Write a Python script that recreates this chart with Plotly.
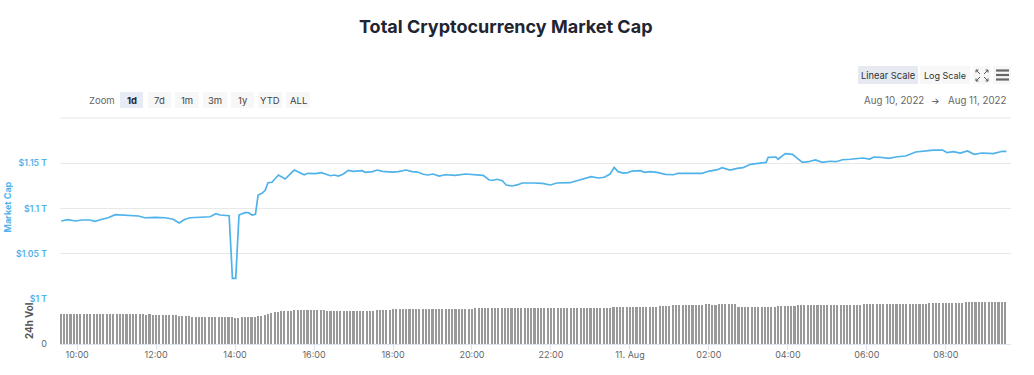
from datetime import datetime, timedelta
import plotly.graph_objects as go

START = datetime(2022, 8, 10, 9, 35)

# Market cap readings: minutes after START, and value in $ trillion
line_minutes = [
    1, 11, 22, 33, 45, 52, 63, 72, 83, 103,
    118, 128, 144, 159, 171, 180, 189, 197, 227, 236,
    242, 256, 261, 266, 271, 280, 285, 291, 296, 300,
    306, 311, 315, 321, 331, 341, 355, 370, 376, 387,
    396, 410, 416, 422, 429, 437, 445, 458, 463, 474,
    481, 489, 504, 513, 525, 534, 542, 551, 558, 566,
    575, 584, 600, 615, 630, 642, 651, 657, 663, 671,
    677, 686, 695, 701, 718, 732, 744, 754, 774, 794,
    806, 817, 826, 835, 841, 847, 855, 862, 868, 881,
    887, 896, 906, 919, 931, 938, 953, 975, 984, 998,
    1005, 1017, 1028, 1037, 1048, 1058, 1072, 1075, 1087, 1090,
    1101, 1112, 1127, 1136, 1147, 1157, 1169, 1178, 1188, 1200,
    1219, 1229, 1236, 1245, 1258, 1271, 1284, 1299, 1311, 1318,
    1326, 1340, 1347, 1356, 1367, 1378, 1388, 1400, 1417, 1431,
    1437,
]
market_cap = [
    1.0862, 1.0876, 1.0862, 1.0873, 1.0873, 1.0859, 1.0881, 1.0898, 1.0932, 1.0928,
    1.0917, 1.0898, 1.0903, 1.0898, 1.0881, 1.0840, 1.0881, 1.0898, 1.0909, 1.0943,
    1.0928, 1.0920, 1.0229, 1.0229, 1.0928, 1.0954, 1.0954, 1.0928, 1.0936, 1.1149,
    1.1168, 1.1204, 1.1285, 1.1290, 1.1370, 1.1326, 1.1425, 1.1373, 1.1389, 1.1385,
    1.1396, 1.1362, 1.1370, 1.1359, 1.1378, 1.1422, 1.1411, 1.1418, 1.1400, 1.1407,
    1.1425, 1.1411, 1.1403, 1.1407, 1.1425, 1.1407, 1.1403, 1.1378, 1.1370, 1.1381,
    1.1359, 1.1373, 1.1367, 1.1381, 1.1373, 1.1367, 1.1315, 1.1312, 1.1323, 1.1307,
    1.1260, 1.1249, 1.1263, 1.1282, 1.1282, 1.1278, 1.1260, 1.1282, 1.1285, 1.1323,
    1.1351, 1.1337, 1.1345, 1.1381, 1.1455, 1.1407, 1.1392, 1.1396, 1.1414, 1.1418,
    1.1400, 1.1407, 1.1400, 1.1378, 1.1373, 1.1389, 1.1389, 1.1389, 1.1411, 1.1429,
    1.1451, 1.1425, 1.1444, 1.1451, 1.1488, 1.1499, 1.1510, 1.1566, 1.1569, 1.1544,
    1.1606, 1.1599, 1.1510, 1.1517, 1.1536, 1.1510, 1.1522, 1.1517, 1.1539, 1.1544,
    1.1558, 1.1547, 1.1569, 1.1566, 1.1555, 1.1572, 1.1580, 1.1624, 1.1635, 1.1635,
    1.1646, 1.1646, 1.1617, 1.1628, 1.1613, 1.1635, 1.1599, 1.1613, 1.1606, 1.1632,
    1.1632,
]

# 24h volume in $ billion, one bar every 5 minutes; each row covers two hours
volume = [
    79, 79, 79, 79, 79, 79, 79, 79, 79, 79, 79, 79, 79, 79, 79, 79, 79, 79, 79, 79, 79, 79, 79, 79,
    79, 79, 78, 79, 78, 78, 77, 77, 77, 77, 77, 77, 75, 75, 74, 74, 73, 73, 73, 73, 73, 73, 73, 73,
    72, 72, 71, 71, 71, 70, 70, 71, 72, 73, 73, 73, 74, 76, 78, 81, 83, 85, 86, 87, 87, 88, 89, 90,
    91, 91, 91, 91, 91, 91, 91, 91, 91, 88, 88, 88, 88, 88, 88, 88, 89, 89, 89, 89, 89, 89, 89, 89,
    90, 90, 91, 91, 92, 93, 93, 93, 93, 93, 93, 93, 93, 93, 93, 93, 93, 93, 94, 94, 94, 94, 94, 94,
    94, 94, 94, 94, 94, 94, 95, 95, 95, 95, 95, 95, 95, 95, 95, 95, 95, 95, 95, 95, 95, 95, 95, 95,
    95, 95, 95, 95, 95, 96, 96, 96, 96, 96, 96, 96, 96, 96, 96, 96, 96, 97, 97, 97, 97, 97, 97, 97,
    98, 98, 98, 98, 98, 99, 99, 99, 99, 99, 99, 100, 100, 100, 101, 101, 102, 102, 103, 103, 104, 104, 105, 105,
    105, 105, 105, 105, 106, 107, 105, 105, 106, 107, 107, 107, 107, 107, 100, 100, 99, 99, 99, 99, 99, 99, 99, 99,
    100, 100, 101, 101, 101, 101, 102, 102, 103, 103, 103, 103, 103, 103, 103, 103, 103, 104, 104, 104, 104, 104, 104, 104,
    104, 104, 104, 104, 106, 107, 107, 107, 107, 107, 107, 107, 107, 107, 107, 107, 107, 107, 107, 107, 108, 108, 108, 108,
    109, 109, 109, 109, 109, 109, 109, 109, 109, 110, 110, 111, 111, 111, 111, 111, 111, 111, 111, 111, 111, 111, 111, 111,
]

y_ticks = [1.0, 1.05, 1.1, 1.15, 1.2]
y_tick_labels = ["$1 T", "$1.05 T", "$1.1 T", "$1.15 T", ""]
x_ticks = ["2022-08-10 10:00", "2022-08-10 12:00", "2022-08-10 14:00", "2022-08-10 16:00",
           "2022-08-10 18:00", "2022-08-10 20:00", "2022-08-10 22:00", "2022-08-11 00:00",
           "2022-08-11 02:00", "2022-08-11 04:00", "2022-08-11 06:00", "2022-08-11 08:00"]
x_tick_labels = ["10:00", "12:00", "14:00", "16:00", "18:00", "20:00", "22:00", "11. Aug",
                 "02:00", "04:00", "06:00", "08:00"]
zoom_buttons = ["1d", "7d", "1m", "3m", "1y", "YTD", "ALL"]

W, H = 1034, 375
L, R, T, B = 60, 1011, 118, 344
FONT = "Inter, Roboto, sans-serif"
BLUE = "#4fb2ea"
GREY = "#666666"


def px(x):
    return (x - L) / (R - L)


def py(y):
    return 1 - (y - T) / (B - T)


line_times = [START + timedelta(minutes=m) for m in line_minutes]
bar_times = [START + timedelta(minutes=5 * i) for i in range(len(volume))]

fig = go.Figure()
fig.add_trace(go.Scatter(x=line_times, y=market_cap, mode="lines", xaxis="x", yaxis="y",
                         line=dict(color=BLUE, width=1.7), hoverinfo="skip"))
fig.add_trace(go.Bar(x=bar_times, y=volume, xaxis="x", yaxis="y2", width=190000,
                     marker=dict(color="#999999", line_width=0), hoverinfo="skip"))

shapes = []
annotations = []


def text(x, y, s, size=10, color=GREY, bold=False, anchor="center", angle=0):
    annotations.append(dict(x=px(x), y=py(y), xref="paper", yref="paper", text=f"<b>{s}</b>" if bold else s,
                            showarrow=False, xanchor=anchor, yanchor="middle", textangle=angle,
                            font=dict(family=FONT, size=size, color=color)))


def rect(x0, y0, x1, y1, fill):
    shapes.append(dict(type="rect", xref="paper", yref="paper", x0=px(x0), x1=px(x1), y0=py(y0), y1=py(y1),
                       fillcolor=fill, line_width=0, layer="below"))


def seg(x0, y0, x1, y1, color=GREY, width=1.0):
    shapes.append(dict(type="line", xref="paper", yref="paper", x0=px(x0), x1=px(x1), y0=py(y0), y1=py(y1),
                       line=dict(color=color, width=width)))


text(505, 27, "Total Cryptocurrency Market Cap", size=18, color="#222531", bold=True)
text(102, 100, "Zoom", size=9.5)

button_edges = [(120, 143), (148, 171), (175, 199), (203, 227), (231, 254), (258, 282), (286, 310)]
for i, (label, (a, b)) in enumerate(zip(zoom_buttons, button_edges)):
    rect(a, 92, b, 108, "#e6ebf5" if i == 0 else "#f7f7f7")
    text((a + b) / 2, 100, label, size=9.5, color="#222531" if i == 0 else "#444444", bold=i == 0)

rect(858, 66, 918, 84, "#e6e9f0")
text(888, 75, "Linear Scale", size=9.3, color="#333333")
rect(920, 66, 970, 84, "#f7f7f7")
text(945, 75, "Log Scale", size=9, color="#333333")
rect(973, 66, 990, 84, "#f7f7f7")
rect(993, 66, 1011, 84, "#f7f7f7")
for y in (70.5, 75, 79.5):
    seg(996, y, 1009, y, color="#666666", width=2.2)
for x0, y0, x1, y1 in [(976, 70, 980, 74), (988, 70, 984, 74), (976, 81, 980, 77), (988, 81, 984, 77)]:
    seg(x0, y0, x1, y1, color="#555555", width=1)
    seg(x0, y0, x0 + (2.5 if x1 > x0 else -2.5), y0, color="#555555", width=1)
    seg(x0, y0, x0, y0 + (2.5 if y1 > y0 else -2.5), color="#555555", width=1)

text(893.5, 100, "Aug 10, 2022", size=9.7)
text(935, 100, "\u2192", size=9, color="#444444")
text(977, 100, "Aug 11, 2022", size=9.7)

text(7, 207.5, "Market Cap", size=9, color=BLUE, bold=True, angle=-90)
text(29, 321, "24h Vol", size=9.8, color="#555555", bold=True, angle=-90)

# the top gridline sits on the plot edge, where the axis does not draw one
seg(L, T, R, T, color="#e8e8e8", width=1)

fig.update_layout(
    width=W, height=H, autosize=False, showlegend=False, plot_bgcolor="white", paper_bgcolor="white",
    margin=dict(l=L, r=W - R, t=T, b=H - B, pad=0),
    bargap=0, shapes=shapes, annotations=annotations,
    font=dict(family=FONT, size=9, color=GREY),
    xaxis=dict(type="date", anchor="y2", range=["2022-08-10 09:34", "2022-08-11 09:39"], automargin=False,
               tickvals=x_ticks, ticktext=x_tick_labels, ticks="outside", ticklen=5, tickwidth=1,
               ticklabelstandoff=-3,
               tickcolor="#dfe5f0", showgrid=False, showline=True, linecolor="#dfe5f0", linewidth=1,
               tickfont=dict(family=FONT, size=9, color=GREY), zeroline=False),
    yaxis=dict(domain=[py(299), 1], range=[1.0, 1.2], tickvals=y_ticks, ticktext=y_tick_labels, automargin=False,
               showgrid=True, gridcolor="#e8e8e8", gridwidth=1, zeroline=False, ticks="",
               ticklabelstandoff=12, tickfont=dict(family=FONT, size=8.7, color=BLUE, weight=600)),
    yaxis2=dict(domain=[0, py(299)], range=[0, 120], tickvals=[0], ticktext=["0"], automargin=False,
                showgrid=False, zeroline=False, ticks="", ticklabelstandoff=12,
                tickfont=dict(family=FONT, size=9, color=GREY)),
)

assert len(line_minutes) == len(market_cap), (len(line_minutes), len(market_cap))
assert len(volume) == 288, len(volume)
fig.write_html("out.html", config={"displayModeBar": False},
               post_script="document.body.style.margin='0';document.body.style.overflow='hidden';")
